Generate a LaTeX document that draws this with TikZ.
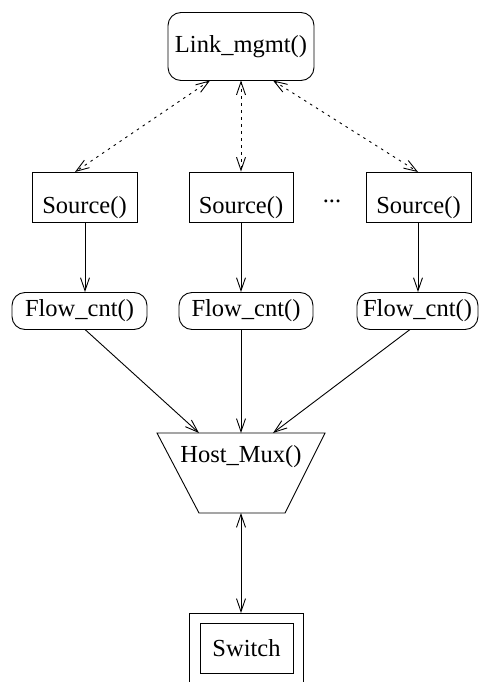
\documentclass[tikz,border=0pt]{standalone}
\usepackage{fontspec}
\setmainfont{Liberation Serif}
\usetikzlibrary{arrows.meta}
\begin{document}
\begin{tikzpicture}[x=1pt,y=-1pt,line width=0.9pt,
  every node/.style={font=\fontsize{24.5}{29}\selectfont},
  srcbox/.style={draw,rectangle,inner sep=0pt,minimum width=105pt,text height=41pt,text depth=9pt},
  roundbox/.style={draw,rectangle,rounded corners=13pt,inner sep=0pt},
  barb/.style={-{Straight Barb[length=13pt,width=9pt]}},
  dbarb/.style={{Straight Barb[length=13pt,width=9pt]}-{Straight Barb[length=13pt,width=9pt]}},
  dotline/.style={dash pattern=on 2.5pt off 4.5pt}]
\useasboundingbox (0,0) rectangle (481,682);

% top
\node[roundbox,minimum width=146pt,minimum height=68pt] (link) at (241,46.5) {Link\_mgmt()};

% sources
\node[srcbox,minimum width=105pt] (src1) at (84.5,197) {Source()};
\node[srcbox,minimum width=104pt] (src2) at (241,197) {Source()};
\node[srcbox,minimum width=105pt] (src3) at (418.5,197) {Source()};
\node[anchor=base] (dots) at (332,202) {...};

% flow counters
\node[roundbox,minimum width=135pt,minimum height=37pt] (flow1) at (79.5,311) {Flow\_cnt()};
\node[roundbox,minimum width=134pt,minimum height=37pt] (flow2) at (246,311) {Flow\_cnt()};
\node[roundbox,minimum width=121pt,minimum height=37pt] (flow3) at (417.5,311) {Flow\_cnt()};

% mux
\coordinate (muxTL) at (157,433);
\coordinate (muxTR) at (325,433);
\coordinate (muxBR) at (285,513);
\coordinate (muxBL) at (199,513);
\draw (muxTL) -- (muxTR) -- (muxBR) -- (muxBL) -- cycle;
\node (mux) at (241,457) {Host\_Mux()};
\coordinate (muxInL) at (199,433);
\coordinate (muxInM) at (241,433);
\coordinate (muxInR) at (273,433);
\coordinate (muxOut) at (241,513);

% switch
\coordinate (swBL) at (189,682);
\coordinate (swTL) at (189,613);
\coordinate (swTR) at (303,613);
\coordinate (swBR) at (303,682);
\draw (swBL) -- (swTL) -- (swTR) -- (swBR);
\node[draw,rectangle,inner sep=0pt,minimum width=93pt,minimum height=50pt] (sw) at (246.5,648) {Switch};
\coordinate (swIn) at (241,613);

% link <-> sources (dotted)
\coordinate (lkA) at (210,80.5);
\coordinate (lkB) at (241,80.5);
\coordinate (lkC) at (273,80.5);
\coordinate (s1top) at (75,172);
\coordinate (s3top) at (418,172);
\draw[dbarb,dotline] (lkA) -- (s1top);
\draw[dbarb,dotline] (lkB) -- (src2.north);
\draw[dbarb,dotline] (lkC) -- (s3top);

% sources -> flows
\coordinate (s1bot) at (85,222);
\coordinate (s3bot) at (418,222);
\draw[barb] (s1bot) -- (s1bot |- flow1.north);
\draw[barb] (src2.south) -- (src2.south |- flow2.north);
\draw[barb] (s3bot) -- (s3bot |- flow3.north);

% flows -> mux
\coordinate (f1out) at (85,329.5);
\coordinate (f2out) at (241,329.5);
\coordinate (f3out) at (410,329.5);
\draw[barb] (f1out) -- (muxInL);
\draw[barb] (f2out) -- (muxInM);
\draw[barb] (f3out) -- (muxInR);

% mux <-> switch
\draw[dbarb] (muxOut) -- (swIn);
\end{tikzpicture}
\end{document}
